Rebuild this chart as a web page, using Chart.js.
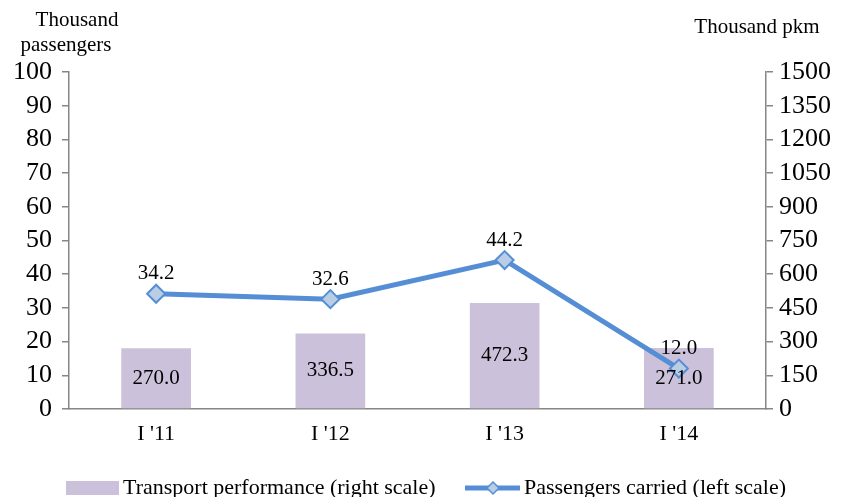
<!DOCTYPE html>
<html>
<head>
<meta charset="utf-8">
<script src="https://cdn.jsdelivr.net/npm/chart.js@4/dist/chart.umd.min.js"></script>
<style>
  html, body { margin: 0; padding: 0; background: #fff; }
  #wrap { width: 843px; height: 497px; }
</style>
</head>
<body>
<div id="wrap"><canvas id="chart" width="843" height="497"></canvas></div>
<script>
const categories = ["I '11", "I '12", "I '13", "I '14"];
const transportPerformance = [270.0, 336.5, 472.3, 271.0];
const passengersCarried = [34.2, 32.6, 44.2, 12.0];
const leftTicks = [0, 10, 20, 30, 40, 50, 60, 70, 80, 90, 100];
const rightTicks = [0, 150, 300, 450, 600, 750, 900, 1050, 1200, 1350, 1500];

const FONT = '"Liberation Serif", "Times New Roman", serif';
const AXIS = '#868686';
const BAR = '#CCC1DA';
const LINE = '#558ED5';
const MARK = '#B9CDE5';

const labelsPlugin = {
    id: 'labelsPlugin',
    afterDatasetsDraw(chart) {
        const ctx = chart.ctx;
        ctx.save();
        ctx.fillStyle = '#000';
        ctx.textAlign = 'center';
        ctx.textBaseline = 'middle';
        ctx.font = '21px ' + FONT;
        chart.getDatasetMeta(1).data.forEach((bar, i) => {
            const mid = (bar.y + bar.base) / 2;
            ctx.fillText(transportPerformance[i].toFixed(1), bar.x, mid);
        });
        chart.getDatasetMeta(0).data.forEach((pt, i) => {
            ctx.fillText(passengersCarried[i].toFixed(1), pt.x, pt.y - 20);
        });

        // axis titles
        ctx.font = '21px ' + FONT;
        ctx.fillText('Thousand', 77, 20);
        ctx.fillText('passengers', 66, 45);
        ctx.fillText('Thousand pkm', 757, 27);

        // legend
        const ly = 488;
        ctx.fillStyle = BAR;
        ctx.fillRect(66, ly - 7, 53, 14);
        ctx.fillStyle = '#000';
        ctx.textAlign = 'left';
        ctx.font = '22px ' + FONT;
        ctx.fillText('Transport performance (right scale)', 123, ly);
        ctx.strokeStyle = LINE;
        ctx.lineWidth = 5;
        ctx.beginPath();
        ctx.moveTo(465, ly);
        ctx.lineTo(520, ly);
        ctx.stroke();
        ctx.fillStyle = MARK;
        ctx.lineWidth = 1.5;
        ctx.beginPath();
        ctx.moveTo(493, ly - 6);
        ctx.lineTo(499, ly);
        ctx.lineTo(493, ly + 6);
        ctx.lineTo(487, ly);
        ctx.closePath();
        ctx.fill();
        ctx.stroke();
        ctx.fillStyle = '#000';
        ctx.fillText('Passengers carried (left scale)', 524, ly);
        ctx.restore();
    }
};

new Chart(document.getElementById('chart'), {
    type: 'bar',
    data: {
        labels: categories,
        datasets: [{
            type: 'line',
            label: 'Passengers carried (left scale)',
            data: passengersCarried,
            yAxisID: 'y',
            borderColor: LINE,
            borderWidth: 5,
            pointStyle: 'rectRot',
            pointRadius: 9,
            pointBackgroundColor: MARK,
            pointBorderColor: LINE,
            pointBorderWidth: 2,
            tension: 0,
            order: 0
        }, {
            type: 'bar',
            label: 'Transport performance (right scale)',
            data: transportPerformance,
            yAxisID: 'y1',
            backgroundColor: BAR,
            categoryPercentage: 1,
            barPercentage: 0.4,
            order: 1
        }]
    },
    options: {
        responsive: false,
        animation: false,
        layout: { padding: { top: 72, left: 0, right: 0, bottom: 0 } },
        plugins: {
            legend: { display: false },
            tooltip: { enabled: false }
        },
        scales: {
            x: {
                grid: { display: false },
                border: { color: AXIS, width: 1.5 },
                ticks: { color: '#000', font: { family: FONT, size: 22 }, padding: 4 },
                afterFit: (s) => { s.height = 88; }
            },
            y: {
                position: 'left',
                min: 0,
                max: 100,
                afterBuildTicks: (s) => { s.ticks = leftTicks.map(v => ({ value: v })); },
                grid: { drawOnChartArea: false, drawTicks: true, tickLength: 7, color: AXIS, lineWidth: 1.5 },
                border: { color: AXIS, width: 1.5 },
                ticks: { color: '#000', font: { family: FONT, size: 26 }, padding: 10, autoSkip: false },
                afterFit: (s) => { s.width = 69; }
            },
            y1: {
                position: 'right',
                min: 0,
                max: 1500,
                afterBuildTicks: (s) => { s.ticks = rightTicks.map(v => ({ value: v })); },
                grid: { drawOnChartArea: false, drawTicks: true, tickLength: 7, color: AXIS, lineWidth: 1.5 },
                border: { color: AXIS, width: 1.5 },
                ticks: { color: '#000', font: { family: FONT, size: 26 }, padding: 6, autoSkip: false, callback: (v) => String(v) },
                afterFit: (s) => { s.width = 77; }
            }
        }
    },
    plugins: [labelsPlugin]
});
</script>
</body>
</html>
